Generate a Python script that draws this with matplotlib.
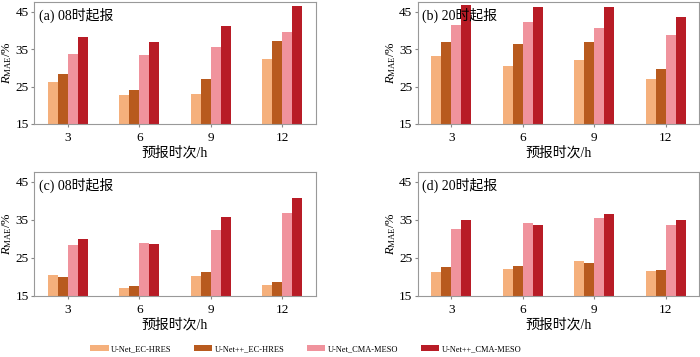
import numpy as np
import matplotlib
matplotlib.use('Agg')
import matplotlib.pyplot as plt

plt.rcParams['font.family'] = ['Liberation Serif', 'Noto Sans CJK SC']
plt.rcParams['mathtext.fontset'] = 'custom'
plt.rcParams['mathtext.rm'] = 'Liberation Serif'
plt.rcParams['mathtext.it'] = 'Liberation Serif:italic'

hours = ['3', '6', '9', '12']
models = ['U-Net_EC-HRES', 'U-Net++_EC-HRES', 'U-Net_CMA-MESO', 'U-Net++_CMA-MESO']
colors = ['#F5B07C', '#B85A1E', '#F0939D', '#B81C26']
titles = ['(a) 08时起报', '(b) 20时起报', '(c) 08时起报', '(d) 20时起报']

# values per panel, rows = models, cols = lead times
vals_a = [[26.3, 22.8, 23.1, 32.5],
          [28.4, 24.1, 26.9, 37.2],
          [33.8, 33.4, 35.6, 39.7],
          [38.2, 37.0, 41.3, 46.6]]
vals_b = [[33.3, 30.6, 32.1, 26.9],
          [36.8, 36.5, 36.8, 29.8],
          [41.5, 42.2, 40.6, 38.8],
          [46.8, 46.2, 46.2, 43.5]]
vals_c = [[20.4, 17.0, 20.3, 18.0],
          [19.9, 17.5, 21.4, 18.7],
          [28.5, 28.9, 32.4, 36.7],
          [29.9, 28.8, 35.7, 40.7]]
vals_d = [[21.2, 22.0, 24.1, 21.6],
          [22.6, 22.9, 23.6, 21.8],
          [32.5, 34.1, 35.4, 33.8],
          [34.9, 33.6, 36.5, 35.1]]

fig = plt.figure(figsize=(7, 3.57), dpi=100)
boxes = [[0.049, 0.653, 0.402, 0.341],
         [0.597, 0.653, 0.402, 0.341],
         [0.049, 0.171, 0.402, 0.347],
         [0.597, 0.171, 0.402, 0.347]]

x = np.arange(len(hours))
w = 0.14
handles = []
for box, vals, title in zip(boxes, [vals_a, vals_b, vals_c, vals_d], titles):
    ax = fig.add_axes(box)
    for i, (v, c) in enumerate(zip(vals, colors)):
        h = ax.bar(x + (i - 1.5) * w, np.array(v) - 15, w, bottom=15,
                   color=c, label=models[i])
        if len(handles) < 4:
            handles.append(h)
    ax.set_xlim(-0.47, 3.47)
    ax.set_ylim(15, 47.6)
    ax.set_yticks([15, 25, 35, 45])
    ax.set_xticks(x)
    ax.set_xticklabels(hours)
    ax.tick_params(labelsize=9.5, color='#888888', length=2.5, width=0.8)
    ax.tick_params(axis='y', pad=1.5)
    for s in ax.spines.values():
        s.set_color('#999999')
        s.set_linewidth(0.8)
    ax.set_xlabel('预报时次/h', fontsize=10, labelpad=1)
    ax.set_ylabel(r'$R_{\mathrm{MAE}}$/%', fontsize=9)
    ax.yaxis.set_label_coords(-0.072, 0.5)
    ax.text(0.015, 0.95, title, transform=ax.transAxes, fontsize=10,
            va='top', ha='left')

fig.legend(handles, models, loc='center', ncol=4, bbox_to_anchor=(0.437, 0.022),
           frameon=False, fontsize=6, handlelength=2.2, handleheight=0.8,
           columnspacing=2.7, handletextpad=0.3)

fig.savefig('out.png', dpi=100)
